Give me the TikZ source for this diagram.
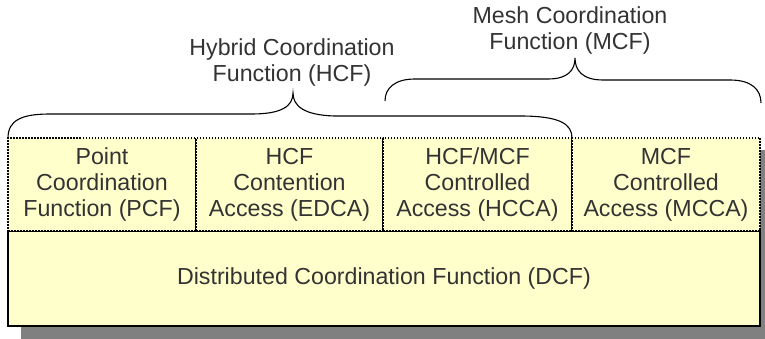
\documentclass[tikz,border=0pt]{standalone}
\usepackage{fontspec}
\setmainfont{Liberation Sans}
\definecolor{boxfill}{HTML}{FFFFCC}
\definecolor{txtcol}{HTML}{333333}
\definecolor{shadowcol}{HTML}{808080}
\begin{document}
\begin{tikzpicture}[x=1pt,y=-1pt,
  lbl/.style={font=\fontsize{23.2}{26}\selectfont, text=txtcol, align=center, inner sep=0pt},
  topbox/.style={lbl, draw=black, line width=1.5pt, dash pattern=on 1.5pt off 1.5pt, fill=boxfill,
     minimum height=93pt, anchor=north west, outer sep=0pt},
  basebox/.style={lbl, draw=black, line width=1.6pt, fill=boxfill, minimum width=752pt,
     minimum height=95pt, anchor=north west, outer sep=0pt},
  brace/.style={draw=black, line width=1.1pt}]
\useasboundingbox (0,0) rectangle (765,339);
% shadow
\fill[shadowcol] (21,150) rectangle (765,339);
% boxes
\node[basebox] (dcf) at (8,231) {Distributed Coordination Function (DCF)};
\node[topbox, minimum width=188pt] (pcf) at (8,138) {Point\\Coordination\\Function (PCF)};
\node[topbox, minimum width=187pt] (edca) at (196,138) {HCF\\Contention\\Access (EDCA)};
\node[topbox, minimum width=189pt] (hcca) at (383,138) {HCF/MCF\\Controlled\\Access (HCCA)};
\node[topbox, minimum width=188pt] (mcca) at (572,138) {MCF\\Controlled\\Access (MCCA)};
% labels
\node[lbl] (hcf) at (292,62) {Hybrid Coordination\\Function (HCF)};
\node[lbl] (mcf) at (570,30) {Mesh Coordination\\Function (MCF)};
% braces
\coordinate (hcfL) at (pcf.north west);
\coordinate (hcfR) at (hcca.north east);
\coordinate (hcfT) at (293,93);
\draw[brace] (hcfL) .. controls (8,120) and (22,114) .. (50,114) -- (252,114)
  .. controls (282,114) and (293,106) .. (hcfT)
  .. controls (293,106) and (304,115) .. (334,116) -- (520,116)
  .. controls (560,116) and (572,124) .. (hcfR);
\coordinate (mcfL) at (385,101);
\coordinate (mcfR) at (761,103);
\coordinate (mcfT) at (575,58);
\draw[brace] (mcfL) .. controls (385,88) and (395,79) .. (415,79) -- (548,79)
  .. controls (568,79) and (575,70) .. (mcfT)
  .. controls (575,70) and (582,80) .. (603,80) -- (730,80)
  .. controls (752,80) and (761,90) .. (mcfR);
\end{tikzpicture}
\end{document}
